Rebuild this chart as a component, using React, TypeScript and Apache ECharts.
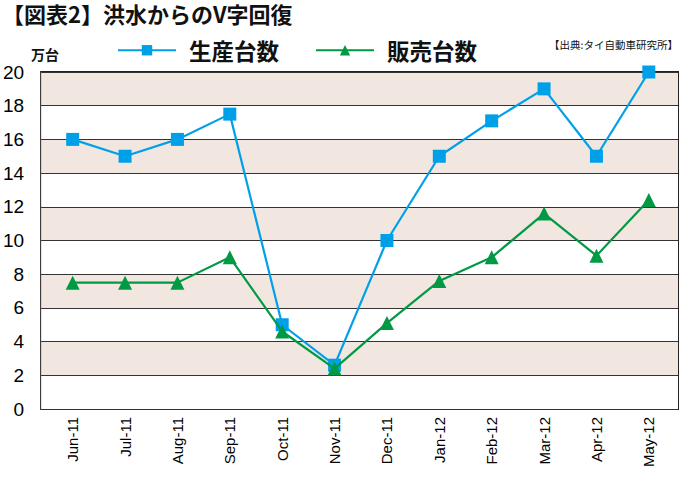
import React, { useEffect, useRef } from "react";
import * as echarts from "echarts";

const categories = ["Jun-11", "Jul-11", "Aug-11", "Sep-11", "Oct-11", "Nov-11", "Dec-11", "Jan-12", "Feb-12", "Mar-12", "Apr-12", "May-12"];
const production = [16.0, 15.0, 16.0, 17.5, 5.0, 2.6, 10.0, 15.0, 17.1, 19.0, 15.0, 20.0];
const sales = [7.5, 7.5, 7.5, 9.0, 4.6, 2.4, 5.1, 7.6, 9.0, 11.6, 9.1, 12.4];
const yTicks = { min: 0, max: 20, interval: 2 };

const JP = '"Noto Sans CJK JP", sans-serif';
const LAT = '"Liberation Sans", Arial, sans-serif';

export default function App() {
  const ref = useRef<HTMLDivElement>(null);
  useEffect(() => {
    if (!ref.current) return;
    const chart = echarts.init(ref.current, null, { renderer: "svg" });
    chart.setOption({
      animation: false,
      backgroundColor: "#ffffff",
      graphic: [
        { type: "text", x: 2, y: 13, style: { text: "【図表2】洪水からのV字回復", font: `bold 22px ${JP}`, lineHeight: 22, fill: "#111", verticalAlign: "middle" } },
        { type: "text", left: 31, top: 47, style: { text: "万台", font: `bold 14px ${JP}`, fill: "#111" } },
        { type: "text", right: 2, top: 39, style: { text: "【出典:タイ自動車研究所】", font: `10.5px ${JP}`, fill: "#111" } },
      ],
      legend: {
        left: 117,
        top: 39,
        padding: 0,
        itemWidth: 58,
        itemHeight: 13,
        itemGap: 36,
        textStyle: { fontFamily: JP, fontSize: 22.5, fontWeight: "bold", color: "#111", padding: [0, 0, 0, 8] },
        data: ["生産台数", "販売台数"],
      },
      grid: [
        { left: 41, right: 2, top: 72, bottom: 70, show: true, borderColor: "#222", borderWidth: 2, backgroundColor: "transparent" },
        { left: 46.5, right: 5, top: 72, bottom: 70 },
      ],
      xAxis: [
        { type: "value", gridIndex: 0, show: false, min: 0, max: 1 },
        {
          type: "category",
          gridIndex: 1,
          data: categories,
          boundaryGap: true,
          axisLine: { show: false },
          axisTick: { show: false },
          axisLabel: { rotate: 90, fontSize: 15, fontFamily: LAT, color: "#000", margin: 8, interval: 0 },
        },
      ],
      yAxis: [
        {
          type: "value",
          gridIndex: 0,
          min: yTicks.min,
          max: yTicks.max,
          interval: yTicks.interval,
          axisLine: { show: false },
          axisTick: { show: false },
          axisLabel: { fontSize: 19, fontFamily: LAT, color: "#000", margin: 17 },
          splitLine: { show: true, lineStyle: { color: "#333", width: 1.2 } },
          splitArea: { show: true, areaStyle: { color: ["#ffffff", "#f2e6e1"] } },
        },
        { type: "value", gridIndex: 1, min: yTicks.min, max: yTicks.max, show: false, splitLine: { show: false } },
      ],
      series: [
        {
          name: "生産台数",
          type: "line",
          xAxisIndex: 1,
          yAxisIndex: 1,
          data: production,
          symbol: "rect",
          symbolSize: 13,
          color: "#00a0e9",
          lineStyle: { color: "#00a0e9", width: 2.2 },
          itemStyle: { color: "#00a0e9" },
          z: 3,
        },
        {
          name: "販売台数",
          type: "line",
          xAxisIndex: 1,
          yAxisIndex: 1,
          data: sales,
          symbol: "triangle",
          symbolSize: 14,
          color: "#009944",
          lineStyle: { color: "#009944", width: 2.2 },
          itemStyle: { color: "#009944" },
          z: 4,
        },
      ],
    });
    return () => chart.dispose();
  }, []);
  return <div ref={ref} style={{ width: 680, height: 479, position: "absolute", left: 0, top: 0 }} />;
}
